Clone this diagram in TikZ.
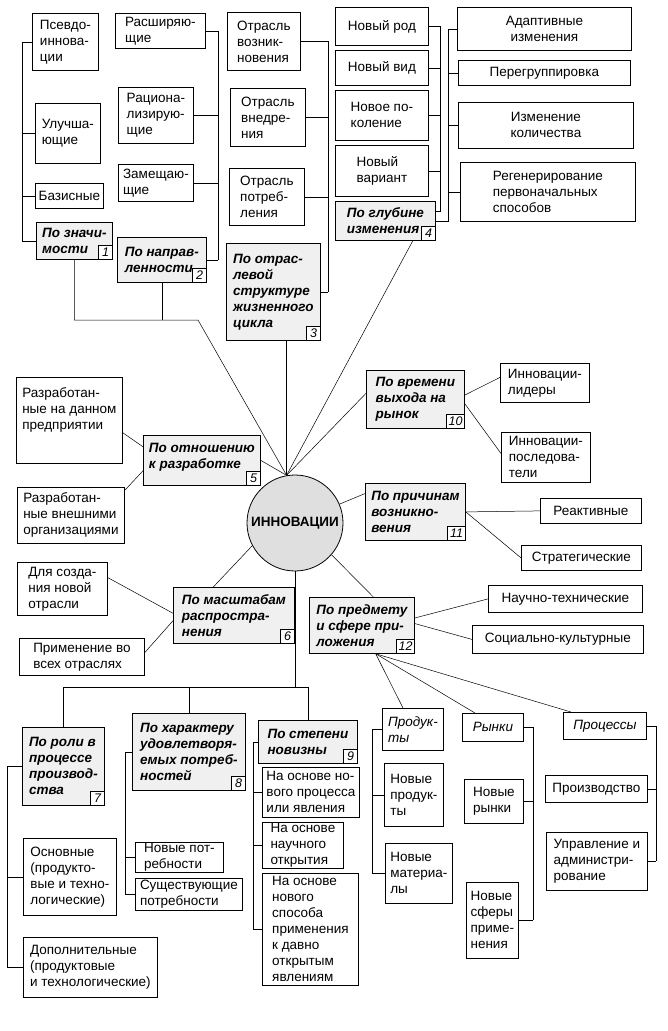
\documentclass[tikz,border=0pt]{standalone}
\usepackage{fontspec}
\setmainfont{Liberation Sans}
% box from corner (x1,y1) to corner (x2,y2)
\newcommand\mkbox[7][]{%
  \pgfmathsetmacro\bw{#5-#3}%
  \pgfmathsetmacro\bh{#6-#4}%
  \node[cell,#1,minimum width=\bw pt,minimum height=\bh pt] (#2) at (#3,#4) {#7};}
\newcommand\lowpad[1]{\rule[-#1]{0pt}{#1}}
\begin{document}
\begin{tikzpicture}[x=1pt,y=-1pt,
  cell/.style={draw,line width=0.8pt,anchor=north west,align=left,
    inner xsep=2pt,inner ysep=1pt,font=\fontsize{13.5}{16}\selectfont},
  kind/.style={fill=gray!12,font=\fontsize{13.5}{16}\selectfont\bfseries\itshape},
  sub/.style={font=\fontsize{13.5}{16}\selectfont\itshape},
  num/.style={draw,line width=0.6pt,fill=white,anchor=south east,inner sep=1pt,
    minimum height=14pt,minimum width=14pt,font=\fontsize{12.5}{12.5}\selectfont\itshape},
  link/.style={line width=0.5pt}]
\useasboundingbox (0,0) rectangle (667,1031);

% centre
\node[circle,draw,line width=0.8pt,fill=gray!25,minimum size=96pt,inner sep=0pt,
  font=\fontsize{13.5}{15}\selectfont\bfseries] (inn) at (295,523) {ИННОВАЦИИ};

% 1
\mkbox{psev}{32}{13}{98}{70}{Псевдо-\\иннова-\\ции}
\mkbox{ulu}{35}{103}{100}{163}{Улучша-\\ющие}
\mkbox{baz}{35}{183}{103}{208}{Базисные}
\mkbox[kind]{k1}{36}{222}{112}{259}{По значи-\\мости}
% 2
\mkbox{rassh}{115}{13}{205}{48}{Расширяю-\\щие}
\mkbox{rac}{118}{87}{193}{143}{Рациона-\\лизирую-\\щие}
\mkbox{zam}{118}{164}{193}{201}{Замещаю-\\щие}
\mkbox[kind]{k2}{117}{237}{206}{282}{По направ-\\ленности}
% 3
\mkbox{otr1}{227}{12}{300}{70}{Отрасль\\возник-\\новения}
\mkbox{otr2}{230}{88}{305}{146}{Отрасль\\внедре-\\ния}
\mkbox{otr3}{229}{168}{304}{225}{Отрасль\\потреб-\\ления}
\mkbox[kind]{k3}{226}{243}{320}{340}{По отрас-\\левой\\структуре\\жизненного\\цикла}
% 4
\mkbox{rod}{335}{7}{428}{45}{Новый род}
\mkbox{vid}{335}{50}{428}{85}{Новый вид}
\mkbox{pok}{335}{90}{428}{140}{Новое по-\\коление}
\mkbox{var}{335}{145}{428}{196}{Новый\\вариант}
\mkbox[kind]{k4}{335}{201}{435}{240}{По глубине\\изменения}
\mkbox[align=center]{adap}{457}{7}{631}{50}{Адаптивные\\изменения}
\mkbox{pereg}{458}{60}{630}{85}{Перегруппировка}
\mkbox[align=center]{kol}{458}{102}{633}{148}{Изменение\\количества}
\mkbox{reg}{460}{162}{635}{221}{Регенерирование\\первоначальных\\способов}
% 5
\mkbox{raz1}{16}{377}{122}{463}{Разработан-\\ные на данном\\предприятии\lowpad{24pt}}
\mkbox[kind]{k5}{143}{435}{260}{485}{По отношению\\к разработке\lowpad{10pt}}
\mkbox{raz2}{17}{487}{124}{543}{Разработан-\\ные внешними\\организациями}
% 10
\mkbox[kind]{k10}{366}{370}{464}{428}{По времени\\выхода на\\рынок}
\mkbox{lid}{500}{363}{589}{402}{Инновации-\\лидеры}
\mkbox{posl}{501}{432}{590}{482}{Инновации-\\последова-\\тели}
% 11
\mkbox[kind]{k11}{365}{483}{465}{540}{По причинам\\возникно-\\вения}
\mkbox{reak}{540}{498}{641}{523}{Реактивные}
\mkbox{strat}{521}{545}{641}{570}{Стратегические}
% 6
\mkbox[kind]{k6}{173}{587}{294}{643}{По масштабам\\распростра-\\нения}
\mkbox{dlya}{17}{562}{107}{615}{Для созда-\\ния новой\\отрасли}
\mkbox{prim}{19}{638}{144}{675}{Применение во\\всех отраслях}
% 12
\mkbox[kind]{k12}{309}{597}{414}{653}{По предмету\\и сфере при-\\ложения}
\mkbox{nauch}{488}{585}{642}{612}{Научно-технические}
\mkbox{soc}{472}{625}{643}{653}{Социально-культурные}
% 7
\mkbox[kind]{k7}{22}{727}{104}{805}{По роли в\\процессе\\производ-\\ства}
\mkbox{osn}{23}{838}{116}{915}{Основные\\(продукто-\\вые и техно-\\логические)}
\mkbox{dop}{23}{937}{157}{997}{Дополнительные\\(продуктовые\\и технологические)}
% 8
\mkbox[kind]{k8}{132}{713}{245}{790}{По характеру\\удовлетворя-\\емых потреб-\\ностей}
\mkbox{novp}{135}{842}{223}{872}{Новые пот-\\ребности}
\mkbox{sush}{135}{878}{242}{910}{Существующие\\потребности}
% 9
\mkbox[kind]{k9}{258}{720}{357}{763}{По степени\\новизны}
\mkbox{nov1}{262}{767}{359}{817}{На основе но-\\вого процесса\\или явления}
\mkbox{nov2}{262}{822}{343}{865}{На основе\\научного\\открытия}
\mkbox{nov3}{262}{873}{358}{985}{На основе\\нового\\способа\\применения\\к давно\\открытым\\явлениям}
% objects of 12
\mkbox[sub]{prod}{382}{708}{443}{750}{Продук-\\ты}
\mkbox{np}{384}{763}{443}{826}{Новые\\продук-\\ты}
\mkbox{nm}{385}{843}{452}{903}{Новые\\материа-\\лы}
\mkbox[sub]{ryn}{462}{713}{523}{741}{Рынки}
\mkbox{nr}{464}{779}{523}{823}{Новые\\рынки}
\mkbox{ns}{466}{882}{518}{958}{Новые\\сферы\\приме-\\нения}
\mkbox[sub]{proc}{563}{712}{646}{739}{Процессы}
\mkbox{proi}{545}{775}{647}{802}{Производство}
\mkbox{upr}{546}{832}{647}{890}{Управление и\\администри-\\рование}

% numbers
\foreach \n in {1,...,9}
  \node[num] (t\n) at (k\n.south east) {\n};
\foreach \n in {10,11,12}
  \node[num,minimum width=18pt] (t\n) at (k\n.south east) {\n};

% buses
\coordinate (b1) at (22,0);
\foreach \n in {psev,ulu,baz,k1}
  \draw[link] (\n.west) -- (\n.west -| b1);
\draw[link] (psev.west -| b1) -- (k1.west -| b1);
\coordinate (b2) at (218,0);
\foreach \n in {rassh,rac,zam,k2}
  \draw[link] (\n.east) -- (\n.east -| b2);
\draw[link] (rassh.east -| b2) -- (k2.east -| b2);
\coordinate (b3) at (328,0);
\foreach \n in {otr1,otr2,otr3,k3}
  \draw[link] (\n.east) -- (\n.east -| b3);
\draw[link] (otr1.east -| b3) -- (k3.east -| b3);
\coordinate (b4) at (440,0);
\foreach \n in {rod,vid,pok,var}
  \draw[link] (\n.east) -- (\n.east -| b4);
\draw[link] (rod.east -| b4) -- ([yshift=10pt]k4.east -| b4) -- ([yshift=10pt]k4.east);
\coordinate (b5) at (448,0);
\foreach \n in {adap,pereg,kol,reg}
  \draw[link] (\n.west) -- (\n.west -| b5);
\draw[link] (adap.west -| b5) -- (k4.east -| b5) -- (k4.east);

\coordinate (tb) at (198,320);
\draw[link] (k1.south) |- (tb) -- (inn.100);
\draw[link] (k2.south) -- (k2.south |- tb);
\draw[link] (inn.100 |- k3.south) -- (inn.100);
\draw[link] (k4.-36) -- (inn.100);
\draw[link] (k10.173) -- (inn.100);
\draw[link] (k5.east) -- (inn.100);

\draw[link] (raz1.-13) -- (k5.167);
\draw[link] (raz2.25) -- (k5.190);
\draw[link] (k10.5) -- (lid.173);
\draw[link] (k10.-5) -- (posl.175);
\draw[link] (k11.160) -- (inn.23);
\draw[link] (k11.east) -- (reak.west);
\draw[link] (k11.east) -- (strat.west);
\draw[link] (k6.126) -- (inn.208);
\draw[link] (dlya.14) -- (k6.178);
\draw[link] (prim.4) -- (k6.185);
\draw[link] (k12.68) -- (inn.-41);
\draw[link] (k12.8) -- (nauch.west);
\draw[link] (k12.2) -- (soc.west);
\draw[link] (k12.-64) -- ([xshift=21pt]prod.north west);
\draw[link] (k12.-64) -- ([xshift=13pt]ryn.north west);
\draw[link] (k12.-64) -- ([xshift=8pt]proc.north west);

\coordinate (hb) at (0,687);
\draw[link] (inn.south) -- (inn.south |- hb);
\draw[link] (k7.north) -- (k7.north |- hb) -- (k9.north |- hb) -- (k9.north);
\draw[link] (k8.north) -- (k8.north |- hb);

\coordinate (b7) at (7,0);
\foreach \n in {k7,osn,dop}
  \draw[link] (\n.west) -- (\n.west -| b7);
\draw[link] (k7.west -| b7) -- (dop.west -| b7);
\coordinate (b8) at (125,0);
\foreach \n in {k8,novp,sush}
  \draw[link] (\n.west) -- (\n.west -| b8);
\draw[link] (k8.west -| b8) -- (sush.west -| b8);
\coordinate (b9) at (253,0);
\foreach \n in {k9,nov1,nov2,nov3}
  \draw[link] (\n.west) -- (\n.west -| b9);
\draw[link] (k9.west -| b9) -- (nov3.west -| b9);
\coordinate (bp) at (372,0);
\foreach \n in {prod,np,nm}
  \draw[link] (\n.west) -- (\n.west -| bp);
\draw[link] (prod.west -| bp) -- (nm.west -| bp);
\coordinate (br) at (533,0);
\foreach \n in {ryn,nr,ns}
  \draw[link] (\n.east) -- (\n.east -| br);
\draw[link] (ryn.east -| br) -- (ns.east -| br);
\coordinate (bq) at (656,0);
\foreach \n in {proc,proi,upr}
  \draw[link] (\n.east) -- (\n.east -| bq);
\draw[link] (proc.east -| bq) -- (upr.east -| bq);
\end{tikzpicture}
\end{document}
